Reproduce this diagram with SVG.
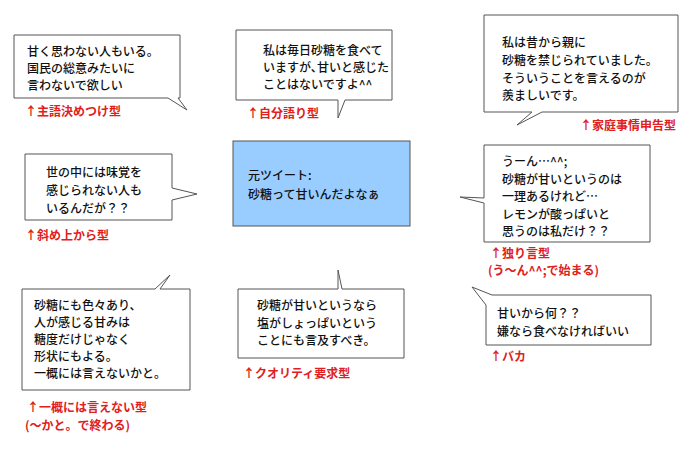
<svg xmlns="http://www.w3.org/2000/svg" width="695" height="466" viewBox="0 0 695 466">
<style>
.b{fill:#fff;stroke:#555;stroke-width:1}
.t{font-family:"Noto Sans CJK JP",sans-serif;font-size:12px;font-weight:500;fill:#111}
.r{font-family:"Noto Sans CJK JP",sans-serif;font-size:12px;font-weight:700;fill:#e02020}
</style>
<rect width="695" height="466" fill="#fff"/>
<g id="center"><rect x="233" y="141" width="177" height="85" fill="#99ccff" stroke="#555"/>
<text class="t" font-size="14" x="248" y="180">元ツイート:</text><text class="t" x="248" y="199" font-size="14">砂糖って甘いんだよなぁ</text></g>
<g id="connectors"></g>
<g id="n1"><path class="b" d="M14,35 H180 V98 H178 L187,110 L168,98 H14 Z"/>
<text class="t" x="27" y="56">甘く思わない人もいる。</text><text class="t" x="27" y="73">国民の総意みたいに</text><text class="t" x="27" y="90">言わないで欲しい</text>
<text class="r" x="25" y="116">↑主語決めつけ型</text></g>
<g id="n2"><path class="b" d="M236,30 H392 V100 H345 L338,118 L338,100 H236 Z"/>
<text class="t" x="263" y="55">私は毎日砂糖を食べて</text><text class="t" x="263" y="72">いますが､甘いと感じた</text><text class="t" x="263" y="89">ことはないですよ^^</text>
<text class="r" x="247" y="118">↑自分語り型</text></g>
<g id="n3"><path class="b" d="M25,154 H172 V188 L197,194 L172,200 V220 H25 Z"/>
<text class="t" x="46" y="177">世の中には味覚を</text><text class="t" x="46" y="195">感じられない人も</text><text class="t" x="46" y="213">いるんだが？？</text>
<text class="r" x="25" y="240">↑斜め上から型</text></g>
<g id="n4"><path class="b" d="M484,15 H678 V112 H542 L517,125 L532,112 H484 Z"/>
<text class="t" x="502" y="47">私は昔から親に</text><text class="t" x="502" y="65">砂糖を禁じられていました。</text><text class="t" x="502" y="83">そういうことを言えるのが</text><text class="t" x="502" y="100">羨ましいです。</text>
<text class="r" x="580" y="130">↑家庭事情申告型</text></g>
<g id="n5"><path class="b" d="M484,145 H650 V242 H484 V203 L460,197 L484,198 Z"/>
<text class="t" x="502" y="166">うーん…^^;</text><text class="t" x="502" y="184">砂糖が甘いというのは</text><text class="t" x="502" y="201">一理あるけれど…</text><text class="t" x="502" y="219">レモンが酸っぱいと</text><text class="t" x="502" y="236">思うのは私だけ？？</text>
<text class="r" x="490" y="258">↑独り言型</text><text class="r" x="488" y="275">(う〜ん^^;で始まる)</text></g>
<g id="n6"><path class="b" d="M22,289 H155 L170,275 L160,289 H190 V390 H22 Z"/>
<text class="t" x="34" y="310">砂糖にも色々あり、</text><text class="t" x="34" y="327">人が感じる甘みは</text><text class="t" x="34" y="344">糖度だけじゃなく</text><text class="t" x="34" y="361">形状にもよる。</text><text class="t" x="34" y="378">一概には言えないかと。</text>
<text class="r" x="27" y="412">↑一概には言えない型</text><text class="r" x="25" y="430">(〜かと。で終わる)</text></g>
<g id="n7"><path class="b" d="M238,289 H338 L338,270 L342,289 H404 V358 H238 Z"/>
<text class="t" x="257" y="310">砂糖が甘いというなら</text><text class="t" x="257" y="328">塩がしょっぱいという</text><text class="t" x="257" y="345">ことにも言及すべき。</text>
<text class="r" x="243" y="378">↑クオリティ要求型</text></g>
<g id="n8"><path class="b" d="M492,295 H651 V345 H486 V305 L472,287 Z"/>
<text class="t" x="497" y="318">甘いから何？？</text><text class="t" x="497" y="336">嫌なら食べなければいい</text>
<text class="r" x="490" y="361">↑バカ</text></g>
</svg>
